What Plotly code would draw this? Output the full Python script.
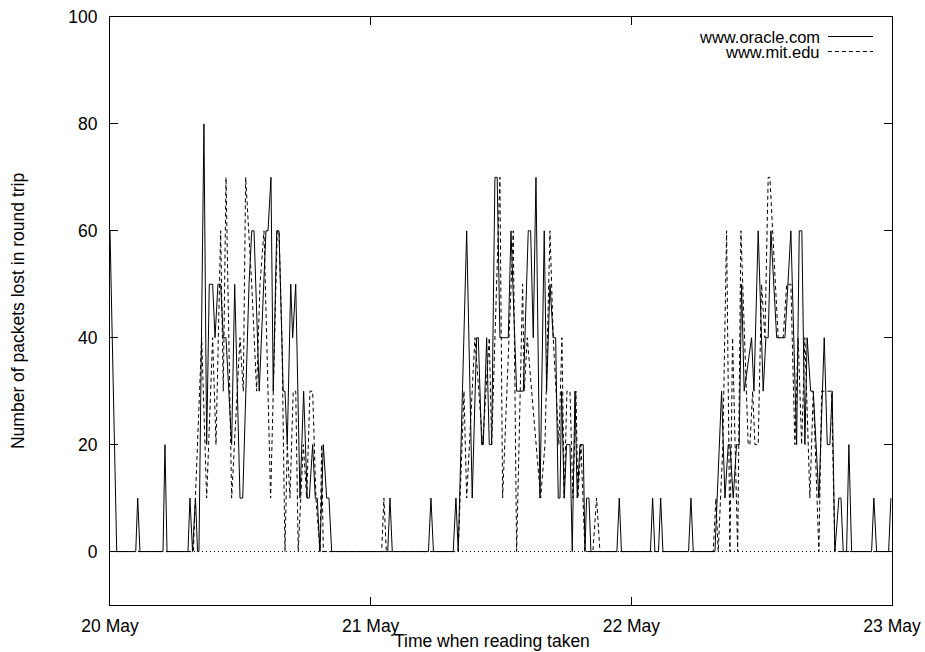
import plotly.graph_objects as go

# ---- data (hours after 20 May 00:00, packets lost) ----
oracle_hours = [0.00, 0.62, 2.37, 2.55, 2.76, 4.88, 5.06, 5.25, 7.18, 7.36, 7.60, 7.87, 8.06, 8.19,
                8.65, 8.90, 9.14, 9.45, 9.67, 9.94, 10.19, 10.43, 10.68, 11.20, 11.48, 11.97, 12.22,
                12.80, 13.05, 13.26, 13.74, 14.36, 14.55, 14.82, 15.03, 15.35, 15.56, 15.95, 16.11,
                16.32, 16.64, 16.82, 17.10, 17.49, 17.83, 18.16, 18.35, 18.66, 18.90, 19.08, 19.33,
                19.64, 19.95, 20.16, 20.41, 25.57, 25.78, 25.99, 29.32, 29.55, 29.78, 31.60, 31.85,
                32.06, 32.84, 33.35, 33.76, 33.91, 34.22, 34.37, 34.68, 34.92, 35.14, 35.44, 35.65,
                35.90, 36.36, 36.67, 36.92, 37.44, 38.05, 38.51, 38.73, 38.97, 39.22, 39.59, 39.98,
                40.20, 40.51, 40.81, 41.03, 41.27, 41.43, 41.58, 41.82, 42.04, 42.35, 42.56, 42.81,
                43.02, 43.27, 43.57, 43.73, 43.88, 44.10, 44.28, 46.67, 46.89, 47.09, 49.76, 49.96,
                50.17, 50.50, 50.70, 50.91, 53.27, 53.49, 53.70, 55.70, 56.31, 56.62, 56.92, 57.08,
                57.38, 57.69, 57.93, 58.15, 58.39, 59.07, 59.29, 59.68, 60.14, 60.39, 60.60, 60.85,
                61.38, 62.14, 62.69, 63.22, 63.46, 63.70, 63.98, 64.19, 64.51, 64.75, 65.27, 65.76,
                66.04, 66.28, 66.49, 66.74, 67.11, 67.30, 67.51, 67.82, 68.03, 68.28, 70.12, 70.33,
                70.58, 71.69, 71.90]
oracle_loss = [60, 0, 0, 10, 0, 0, 20, 0, 0, 10, 0, 10, 0, 0,
               80, 20, 50, 50, 40, 50, 50, 40, 40, 20, 50, 10, 10,
               50, 60, 60, 30, 60, 60, 70, 30, 60, 60, 30, 30,
               20, 50, 40, 50, 10, 30, 10, 10, 20, 10, 10, 0,
               20, 10, 10, 0, 0, 10, 0, 0, 10, 0, 0, 10,
               0, 60, 10, 40, 40, 20, 20, 40, 20, 20, 70, 70,
               40, 40, 40, 60, 30, 30, 60, 60, 40, 70, 10, 60,
               30, 50, 40, 40, 10, 10, 30, 10, 20, 20, 0, 30,
               10, 20, 20, 0, 10, 10, 0, 0, 10, 0, 0, 10,
               0, 0, 10, 0, 0, 10, 0, 0, 30, 10, 20, 20,
               10, 20, 20, 50, 30, 40, 30, 60, 30, 40, 40, 60,
               40, 40, 60, 20, 60, 60, 20, 40, 30, 30, 10, 40,
               20, 20, 30, 0, 10, 10, 0, 0, 20, 0, 0, 10,
               0, 0, 10]

mit_hours = [0.00, 7.67, 8.44, 8.90, 9.45, 9.76, 10.19, 10.43, 10.68, 11.20, 11.97, 12.27, 12.49,
             13.05, 13.50, 13.81, 14.18, 14.79, 15.40, 15.56, 15.83, 16.11, 16.32, 16.57, 16.87,
             17.10, 17.33, 17.80, 18.11, 18.41, 18.66, 18.96, 19.33, 19.49, 19.64, 25.01, 25.22,
             25.44, 32.06, 32.59, 32.84, 33.60, 34.31, 34.92, 35.14, 35.90, 36.15, 37.13, 37.44,
             37.99, 38.14, 38.42, 38.82, 39.22, 39.65, 40.05, 40.51, 40.81, 41.06, 41.33, 41.61,
             41.82, 42.07, 42.35, 42.62, 42.90, 43.08, 43.36, 43.73, 44.46, 44.80, 45.11, 55.54,
             55.79, 56.00, 56.43, 56.77, 57.08, 57.32, 57.79, 58.09, 58.76, 58.92, 59.17, 59.38,
             59.68, 59.99, 60.30, 60.60, 60.76, 61.01, 61.52, 61.98, 62.30, 62.69, 63.06, 63.36,
             63.68, 63.98, 64.14, 64.44, 64.75, 65.27, 65.52, 66.44, 66.74, 72.00]
mit_loss = [0, 0, 40, 10, 40, 20, 60, 30, 70, 10, 40, 30, 70,
            50, 30, 50, 60, 10, 60, 60, 40, 0, 20, 10, 30,
            30, 0, 20, 10, 30, 30, 10, 0, 20, 0, 0, 10,
            0, 0, 30, 10, 40, 20, 40, 20, 70, 10, 60, 0,
            50, 30, 40, 30, 20, 10, 20, 60, 40, 30, 20, 40,
            10, 30, 30, 10, 30, 10, 20, 0, 0, 10, 0, 0,
            10, 0, 20, 60, 0, 40, 0, 60, 20, 20, 30, 20,
            20, 50, 40, 70, 70, 60, 40, 40, 50, 50, 20, 40,
            20, 40, 30, 10, 30, 0, 30, 30, 0, 0]

series_names = ["www.oracle.com", "www.mit.edu"]
day_ticks = [0, 24, 48, 72]
day_labels = ["20 May", "21 May", "22 May", "23 May"]
y_ticks = [0, 20, 40, 60, 80, 100]
y_tick_labels = ["0", "20", "40", "60", "80", "100"]

FONT = "Liberation Sans, Arial, Helvetica, sans-serif"
FS = 17.5

fig = go.Figure()
fig.add_trace(go.Scatter(x=oracle_hours, y=oracle_loss, mode="lines", name=series_names[0],
                         line=dict(color="black", width=1), showlegend=False))
fig.add_trace(go.Scatter(x=mit_hours, y=mit_loss, mode="lines", name=series_names[1],
                         line=dict(color="black", width=1, dash="4px,3px"), showlegend=False))

# dotted zero axis
fig.add_shape(type="line", xref="paper", yref="y", x0=0, x1=1, y0=0, y1=0,
              line=dict(color="black", width=1, dash="1px,3px"), layer="below")

# legend (text right-aligned, sample line on the right, like gnuplot)
leg_y = [0.9668, 0.9413]
dashes = ["solid", "4px,3px"]
for i in range(2):
    fig.add_annotation(xref="paper", yref="paper", x=0.9105, y=leg_y[i], text=series_names[i],
                       showarrow=False, xanchor="right", yanchor="middle",
                       font=dict(family=FONT, size=16.5, color="black"))
    fig.add_shape(type="line", xref="paper", yref="paper", x0=0.918, x1=0.9757,
                  y0=leg_y[i], y1=leg_y[i], line=dict(color="black", width=1, dash=dashes[i]))

# axis titles
fig.add_annotation(xref="paper", yref="paper", x=0.4885, y=-0.0612, text="Time when reading taken",
                   showarrow=False, xanchor="center", yanchor="middle",
                   font=dict(family=FONT, size=FS, color="black"))
fig.add_annotation(xref="paper", yref="paper", x=-0.1176, y=0.5,
                   text="Number of packets lost in round trip", textangle=-90,
                   showarrow=False, xanchor="center", yanchor="middle",
                   font=dict(family=FONT, size=FS, color="black"))

fig.update_layout(
    width=925, height=652,
    margin=dict(l=110, r=33, t=17, b=47, pad=0, autoexpand=False),
    paper_bgcolor="white", plot_bgcolor="white",
    font=dict(family=FONT, size=FS, color="black"),
    showlegend=False,
)
fig.update_xaxes(range=[0, 72], tickvals=day_ticks, ticktext=day_labels, automargin=False,
                 ticks="inside", ticklen=8, tickwidth=1, tickcolor="black",
                 showline=True, linecolor="black", linewidth=1, mirror="ticks",
                 showgrid=False, zeroline=False, ticklabelstandoff=5,
                 ticklabeloverflow="allow")
fig.update_yaxes(range=[-10, 100], tickvals=y_ticks, ticktext=y_tick_labels, automargin=False,
                 ticks="inside", ticklen=8, tickwidth=1, tickcolor="black",
                 showline=True, linecolor="black", linewidth=1, mirror="ticks",
                 showgrid=False, zeroline=False, ticklabelstandoff=8,
                 ticklabeloverflow="allow")

# remove the default 8px page margin so the figure fills the 925x652 window exactly
fig.write_html("out.html", config={"displayModeBar": False},
               post_script="document.body.style.margin='0';")
